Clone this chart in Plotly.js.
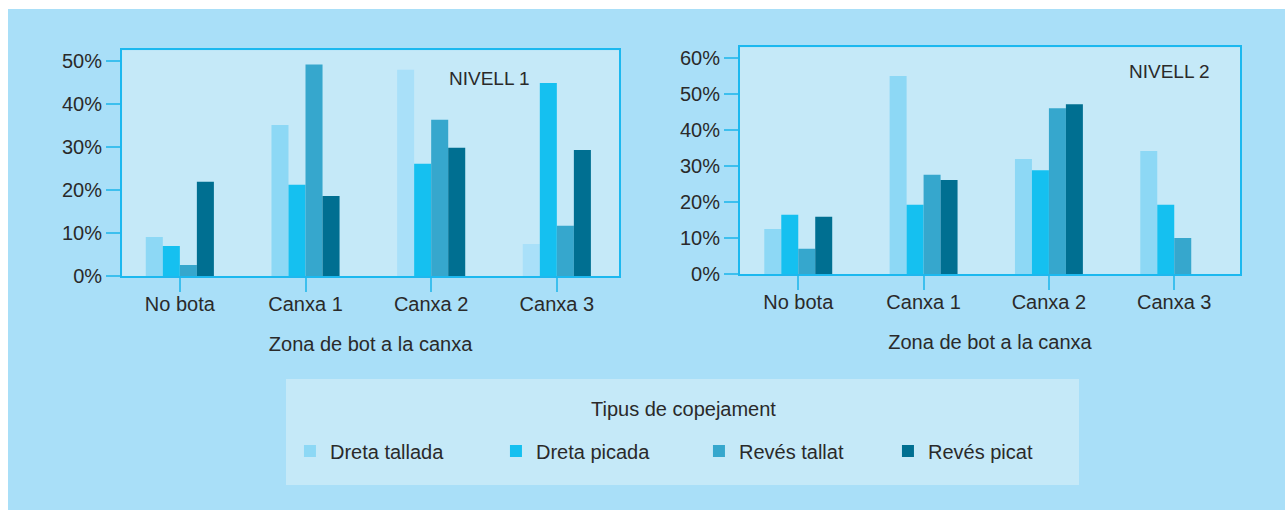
<!DOCTYPE html>
<html>
<head>
<meta charset="utf-8">
<script src="https://cdn.plot.ly/plotly-3.0.1.min.js"></script>
<style>
  html, body { margin: 0; padding: 0; background: #ffffff; width: 1285px; height: 510px; overflow: hidden; }
  #chart { position: absolute; left: 8px; top: 9px; width: 1277px; height: 501px; }
</style>
</head>
<body>
<div id="chart"></div>
<script>
// ---- Data ----
const categories = ['No bota', 'Canxa 1', 'Canxa 2', 'Canxa 3'];
const seriesNames = ['Dreta tallada', 'Dreta picada', 'Revés tallat', 'Revés picat'];

// NIVELL 1 (percent)
const n1DretaTallada = [9.1, 35.1, 47.9, 7.5];
const n1DretaPicada  = [7.0, 21.2, 26.1, 44.8];
const n1RevesTallat  = [2.6, 49.1, 36.3, 11.7];
const n1RevesPicat   = [21.9, 18.6, 29.8, 29.3];

// NIVELL 2 (percent)
const n2DretaTallada = [12.5, 54.9, 31.9, 34.1];
const n2DretaPicada  = [16.4, 19.2, 28.8, 19.2];
const n2RevesTallat  = [7.0, 27.5, 46.0, 10.0];
const n2RevesPicat   = [15.9, 26.1, 47.1, 0];

const yTickVals1 = [0, 10, 20, 30, 40, 50];
const yTickText1 = ['0%', '10%', '20%', '30%', '40%', '50%'];
const yTickVals2 = [0, 10, 20, 30, 40, 50, 60];
const yTickText2 = ['0%', '10%', '20%', '30%', '40%', '50%', '60%'];
const panelLabels = ['NIVELL 1', 'NIVELL 2'];
const xTitle = 'Zona de bot a la canxa';
const legendTitle = 'Tipus de copejament';

// ---- Styles ----
const colors = ['#8dd8f5', '#15c0f0', '#36a7cd', '#006f91'];
const n1FirstColors = ['#8dd8f5', '#8dd8f5', '#a9e0f9', '#a9e0f9'];
const legendWidths = [161, 158, 144, 110];
const textColor = '#2a2a2a';
const fontFamily = '"Liberation Sans", Arial, sans-serif';
const frameColor = '#1cb8ef';
const tickColor = '#3dbfee';

const n1 = [n1DretaTallada, n1DretaPicada, n1RevesTallat, n1RevesPicat];
const n2 = [n2DretaTallada, n2DretaPicada, n2RevesTallat, n2RevesPicat];

const traces = [];
n1.forEach((vals, i) => {
  traces.push({
    type: 'bar', x: categories, y: vals, name: seriesNames[i],
    xaxis: 'x', yaxis: 'y', legendgroup: seriesNames[i],
    marker: { color: i === 0 ? n1FirstColors : colors[i], line: { width: 0 } },
    legendwidth: legendWidths[i],
    hoverinfo: 'x+y+name'
  });
});
n2.forEach((vals, i) => {
  traces.push({
    type: 'bar', x: categories, y: vals, name: seriesNames[i],
    xaxis: 'x2', yaxis: 'y2', legendgroup: seriesNames[i], showlegend: false,
    marker: { color: colors[i], line: { width: 0 } },
    hoverinfo: 'x+y+name'
  });
});

function xAxis(domain, range, anchor) {
  return {
    domain: domain, range: range, anchor: anchor, type: 'category',
    showline: true, linecolor: frameColor, linewidth: 2, mirror: true,
    ticks: 'outside', ticklen: 14, tickwidth: 2, tickcolor: tickColor,
    ticklabelstandoff: -5,
    tickfont: { family: fontFamily, size: 20, color: textColor },
    showgrid: false, zeroline: false,
    title: { text: xTitle, font: { family: fontFamily, size: 20, color: textColor }, standoff: 23 }
  };
}
function yAxis(domain, range, vals, text, anchor) {
  return {
    domain: domain, range: range, anchor: anchor,
    tickmode: 'array', tickvals: vals, ticktext: text,
    showline: true, linecolor: frameColor, linewidth: 2, mirror: true,
    ticks: 'outside', ticklen: 14, tickwidth: 2, tickcolor: tickColor,
    tickfont: { family: fontFamily, size: 20, color: textColor },
    showgrid: false, zeroline: false
  };
}

const layout = {
  width: 1277, height: 501,
  margin: { l: 0, r: 0, t: 0, b: 0 },
  paper_bgcolor: '#a9dff8',
  plot_bgcolor: '#c5e9f8',
  font: { family: fontFamily, size: 20, color: textColor },
  barmode: 'group', bargap: 0.458, bargroupgap: 0,
  xaxis: xAxis([0.0893, 0.4785], [-0.46, 3.495], 'y'),
  yaxis: yAxis([0.4665, 0.9176], [0, 52.4], yTickVals1, yTickText1, 'x'),
  xaxis2: xAxis([0.5732, 0.9648], [-0.465, 3.525], 'y2'),
  yaxis2: yAxis([0.4711, 0.9236], [0, 62.9], yTickVals2, yTickText2, 'x2'),
  showlegend: true,
  legend: {
    orientation: 'h', xref: 'paper', yref: 'paper',
    x: 0.2208, xanchor: 'left', y: 0.118, yanchor: 'middle',
    bgcolor: 'rgba(0,0,0,0)', borderwidth: 0,
    font: { family: fontFamily, size: 20, color: textColor },
    itemwidth: 30, itemclick: false, itemdoubleclick: false
  },
  shapes: [{
    type: 'rect', xref: 'paper', yref: 'paper',
    x0: 0.2177, x1: 0.8387, y0: 0.0499, y1: 0.2615,
    fillcolor: '#c5e9f8', line: { width: 0 }, layer: 'below'
  }],
  annotations: [
    { text: panelLabels[0], xref: 'x domain', yref: 'y domain', x: 0.654, y: 0.875,
      xanchor: 'left', yanchor: 'middle', showarrow: false,
      font: { family: fontFamily, size: 19, color: textColor } },
    { text: panelLabels[1], xref: 'x2 domain', yref: 'y2 domain', x: 0.774, y: 0.891,
      xanchor: 'left', yanchor: 'middle', showarrow: false,
      font: { family: fontFamily, size: 19, color: textColor } },
    { text: legendTitle, xref: 'paper', yref: 'paper', x: 0.529, y: 0.2016,
      xanchor: 'center', yanchor: 'middle', showarrow: false,
      font: { family: fontFamily, size: 20, color: textColor } }
  ]
};

Plotly.newPlot('chart', traces, layout, { displayModeBar: false, staticPlot: true });
</script>
</body>
</html>
